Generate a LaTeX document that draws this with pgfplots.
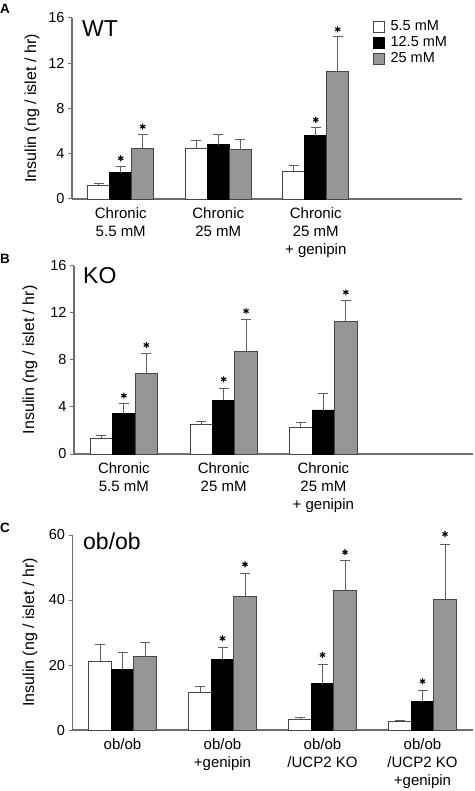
\documentclass[border=0pt]{standalone}
\usepackage{fontspec}
\setmainfont{Liberation Sans}
\usepackage{pgfplots}
\pgfplotsset{compat=1.18}
\definecolor{barline}{RGB}{70,70,70}
\definecolor{axisgray}{RGB}{110,110,110}
\definecolor{errgray}{RGB}{95,95,95}
\definecolor{midgray}{RGB}{150,150,150}
\pgfplotsset{
  panel/.style={
    scale only axis, axis lines*=left, xmin=-0.5, xmax=3.5, ymin=0, clip=false,
    axis line style={draw=axisgray, line width=1.1pt},
    tick align=outside, major tick length=4pt,
    ytick style={draw=axisgray, line width=1pt},
    xtick style={draw=none},
    tick label style={font=\fontsize{14.5}{16}\selectfont},
    /pgf/number format/assume math mode=true,
    xticklabel style={font=\fontsize{15}{18}\selectfont, align=center, yshift=-1.5pt},
    ylabel={Insulin (ng / islet / hr)},
  },
  barbase/.style={ybar, bar width=0.225, bar shift=0, draw=barline, line width=0.9pt,
    legend image code/.code={\draw[##1] (0pt,-5.5pt) rectangle (11pt,5.5pt);},
    error bars/y dir=plus, error bars/y explicit,
    error bars/error bar style={draw=errgray, line width=1pt},
    error bars/error mark options={rotate=90, mark size=5pt, draw=errgray, line width=1pt}},
  wbar/.style={barbase, fill=white},
  kbar/.style={barbase, fill=black, draw=black},
  gbar/.style={barbase, fill=midgray},
  star/.style={forget plot, only marks, mark=asterisk, mark size=3pt, mark options={black, line width=1.1pt}},
}
\begin{document}
\begin{tikzpicture}[x=1pt,y=1pt]
\useasboundingbox (0,0) rectangle (474,-791);
% ---------------- A ----------------
\begin{axis}[panel, at={(72pt,-199pt)}, anchor=south west, width=390pt, height=181pt,
  ymax=16, ytick={0,4,8,12,16}, xtick={0,1,2},
  xticklabels={{Chronic\\5.5 mM},{Chronic\\25 mM},{Chronic\\25 mM\\+ genipin}},
  ylabel style={font=\fontsize{16}{16}\selectfont, at={(axis description cs:-0.1026,0.5)}, anchor=center},
  legend style={at={(rel axis cs:0.7718,0.9945)}, anchor=north west, draw=none, fill=none,
    inner sep=0pt, row sep=0pt, font=\fontsize{14.5}{16}\selectfont,
    nodes={inner sep=1.5pt, text height=10pt, text depth=3pt},
    /tikz/every odd column/.append style={column sep=4pt}},
  legend cell align=left]
\addplot[wbar] coordinates {(-0.225,1.18) +- (0,0.18) (0.775,4.45) +- (0,0.74) (1.775,2.45) +- (0,0.53)};
\addlegendentry{5.5 mM}
\addplot[kbar] coordinates {(0,2.33) +- (0,0.53) (1,4.81) +- (0,0.91) (2,5.6) +- (0,0.68)};
\addlegendentry{12.5 mM}
\addplot[gbar] coordinates {(0.225,4.45) +- (0,1.27) (1.225,4.37) +- (0,0.91) (2.225,11.3) +- (0,3.1)};
\addlegendentry{25 mM}
\addplot[star] coordinates {(0,3.6) (0.225,6.4) (2,7.0) (2.225,15.0)};
\end{axis}
% ---------------- B ----------------
\begin{axis}[panel, at={(74pt,-454pt)}, anchor=south west, width=399pt, height=188.3pt,
  ymax=16, ytick={0,4,8,12,16}, xtick={0,1,2},
  xticklabels={{Chronic\\5.5 mM},{Chronic\\25 mM},{Chronic\\25 mM\\+ genipin}},
  ylabel style={font=\fontsize{16}{16}\selectfont, at={(axis description cs:-0.11,0.5)}, anchor=center}]
\addplot[wbar] coordinates {(-0.225,1.33) +- (0,0.23) (0.775,2.52) +- (0,0.28) (1.775,2.27) +- (0,0.39)};
\addplot[kbar] coordinates {(0,3.43) +- (0,0.87) (1,4.56) +- (0,1.02) (2,3.74) +- (0,1.36)};
\addplot[gbar] coordinates {(0.225,6.83) +- (0,1.67) (1.225,8.75) +- (0,2.72) (2.225,11.25) +- (0,1.78)};
\addplot[star] coordinates {(0,4.96) (0.225,9.26) (1,6.35) (1.225,12.15) (2.225,13.74)};
\end{axis}
% ---------------- C ----------------
\begin{axis}[panel, at={(72.5pt,-730pt)}, anchor=south west, width=400pt, height=195pt,
  ymax=60, ytick={0,20,40,60}, xtick={0,1,2,3},
  xticklabels={{ob/ob},{ob/ob\\+genipin},{ob/ob\\/UCP2 KO},{ob/ob\\/UCP2 KO\\+genipin}},
  ylabel style={font=\fontsize{16}{16}\selectfont, at={(axis description cs:-0.106,0.5)}, anchor=center}]
\addplot[wbar] coordinates {(-0.225,21.2) +- (0,5.2) (0.775,11.5) +- (0,1.9) (1.775,3.1) +- (0,0.8) (2.775,2.5) +- (0,0.5)};
\addplot[kbar] coordinates {(0,18.6) +- (0,5.1) (1,21.8) +- (0,3.5) (2,14.2) +- (0,5.9) (3,8.7) +- (0,3.6)};
\addplot[gbar] coordinates {(0.225,22.5) +- (0,4.3) (1.225,41.2) +- (0,7.0) (2.225,42.8) +- (0,9.3) (3.225,40.3) +- (0,16.9)};
\addplot[star] coordinates {(1,28.2) (1.225,51.0) (2,23.1) (2.225,54.7) (3,15.0) (3.225,60.3)};
\end{axis}
% panel letters and titles
\node[anchor=base west, inner sep=0pt, font=\fontsize{13.5}{14}\selectfont\bfseries] at (0pt,-14pt) {A};
\node[anchor=base west, inner sep=0pt, font=\fontsize{13.5}{14}\selectfont\bfseries] at (0pt,-264pt) {B};
\node[anchor=base west, inner sep=0pt, font=\fontsize{13.5}{14}\selectfont\bfseries] at (0pt,-532pt) {C};
\node[anchor=base west, inner sep=0pt, font=\fontsize{23}{23}\selectfont] at (82pt,-36.7pt) {WT};
\node[anchor=base west, inner sep=0pt, font=\fontsize{23}{23}\selectfont] at (83pt,-283.3pt) {KO};
\node[anchor=base west, inner sep=0pt, font=\fontsize{23}{23}\selectfont] at (83pt,-549pt) {ob/ob};
\end{tikzpicture}
\end{document}
